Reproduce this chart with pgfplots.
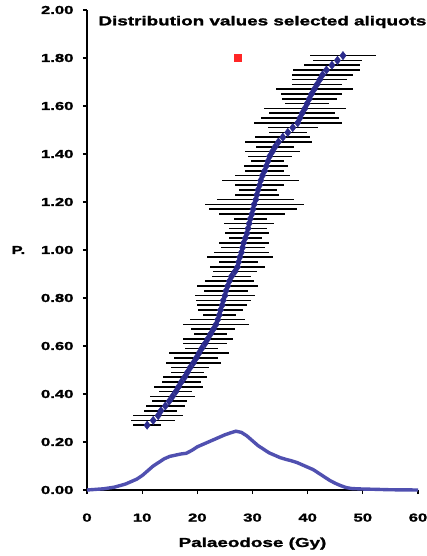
\documentclass[border=0pt]{standalone}
\usepackage{pgfplots}
\usepackage{pgfplotstable}
\pgfplotsset{compat=1.18}
\usepackage{fontspec}
\setmainfont{Liberation Sans}[FakeStretch=1.45, BoldFeatures={FakeBold=1.6}]
\definecolor{ptblue}{HTML}{2B2B8C}
\definecolor{curveblue}{HTML}{5050B0}
\pgfplotstableread{
x y ex
10.9 0.27 2.5
12.0 0.29 4
12.9 0.31 4.5
13.4 0.33 3
14.2 0.35 3.5
14.9 0.37 3.2
15.5 0.39 4
16.1 0.41 3
16.6 0.43 4.5
17.1 0.45 3.5
17.7 0.47 4
18.2 0.49 3
18.7 0.51 3.5
19.3 0.53 5
19.8 0.55 4
20.3 0.57 5.5
20.8 0.59 3
21.4 0.61 4
21.9 0.63 4.5
22.4 0.65 3
22.9 0.67 4
23.4 0.69 6
23.7 0.71 5
24.0 0.73 3
24.2 0.75 4
24.5 0.77 4.5
24.7 0.79 5
25.0 0.81 5.5
25.2 0.83 4
25.5 0.85 5.5
25.8 0.87 4.5
26.2 0.89 3.5
26.8 0.91 4
27.3 0.93 5
27.5 0.95 3.5
27.7 0.97 6
28.0 0.99 5
28.2 1.01 4
28.4 1.03 4.5
28.7 1.05 3
29.0 1.07 4
29.2 1.09 3.5
29.4 1.11 4.5
29.6 1.13 3
29.9 1.15 6
30.1 1.17 8
30.3 1.19 9
30.6 1.21 7
30.8 1.23 4
31.0 1.25 3.5
31.3 1.27 4.5
31.5 1.29 7
31.8 1.31 5
32.2 1.33 3.5
32.5 1.35 4
32.8 1.37 3
33.1 1.39 4
33.6 1.41 5
34.1 1.43 3.5
34.7 1.45 6
35.5 1.47 5
36.4 1.49 3.5
37.3 1.51 4.5
38.2 1.53 8
38.6 1.55 7
39.0 1.57 6
39.5 1.59 7.5
39.9 1.61 4
40.3 1.63 5
40.7 1.65 5.5
41.2 1.67 7
41.7 1.69 4.5
42.2 1.71 5
42.7 1.73 5.5
43.4 1.75 6
44.4 1.77 5
45.4 1.79 4.5
46.4 1.81 6
}\pointdata
\pgfplotstableread{
x y
0 0
3 0.005
5 0.012
7 0.025
9 0.045
10 0.06
11 0.08
12 0.10
13 0.115
14 0.13
15 0.14
16 0.145
17 0.15
18 0.153
19 0.165
20 0.18
21 0.19
22 0.20
23 0.21
24 0.22
25 0.23
26 0.238
27 0.245
28 0.24
29 0.225
30 0.205
31 0.185
32 0.17
33 0.155
34 0.145
35 0.135
36 0.128
37 0.122
38 0.115
39 0.105
40 0.095
41 0.085
42 0.07
43 0.055
44 0.04
45 0.028
46 0.018
47 0.01
48 0.006
50 0.004
52 0.003
55 0.001
60 0
}\curvedata
\begin{document}
\begin{tikzpicture}
\begin{axis}[
  scale only axis,
  width=331pt, height=480pt,
  xmin=0, xmax=60, ymin=0, ymax=2,
  axis x line=bottom, axis y line=left,
  axis line style={-, line width=1.2pt, black},
  xtick={0,10,...,60},
  ytick={0,0.2,...,2.0},
  tick align=outside,
  major tick length=4pt,
  tick style={black, line width=1.2pt},
  /pgf/number format/assume math mode=true,
  every tick label/.append style={font=\bfseries\fontsize{11.5}{12}\selectfont},
  yticklabel style={xshift=-6pt, /pgf/number format/.cd, fixed, fixed zerofill, precision=2},
  xticklabel style={yshift=-16pt},
  xlabel={\bfseries Palaeodose (Gy)},
  ylabel={\bfseries P.},
  xlabel style={font=\bfseries\fontsize{13}{13}\selectfont, yshift=-9pt},
  ylabel style={font=\bfseries\fontsize{11.5}{12}\selectfont, rotate=-90, xshift=-9pt},
  clip=false,
]
\addplot[draw=none, mark=none, forget plot,
  error bars/.cd, x dir=both, x explicit,
  error mark=none,
  error bar style={black, line width=1.6pt}]
  table[x=x, y=y, x error=ex] {\pointdata};
\addplot[only marks, mark=diamond*, mark size=4.2pt,
  mark options={fill=ptblue, draw=ptblue}] table[x=x, y=y] {\pointdata};
\addplot[curveblue, line width=3.4pt, mark=none] table[x=x, y=y] {\curvedata};
\addplot[only marks, mark=square*, mark size=3.5pt, color=red!85!white] coordinates {(27.3,1.80)};
\node[font=\bfseries\fontsize{13}{13}\selectfont, anchor=center] at (rel axis cs:0.53,0.975) {Distribution values selected aliquots};
\end{axis}
\pgfresetboundingbox
\path (current axis.south west) ++(-87pt,-66pt) rectangle ++(426pt,556pt);
\end{tikzpicture}
\end{document}
